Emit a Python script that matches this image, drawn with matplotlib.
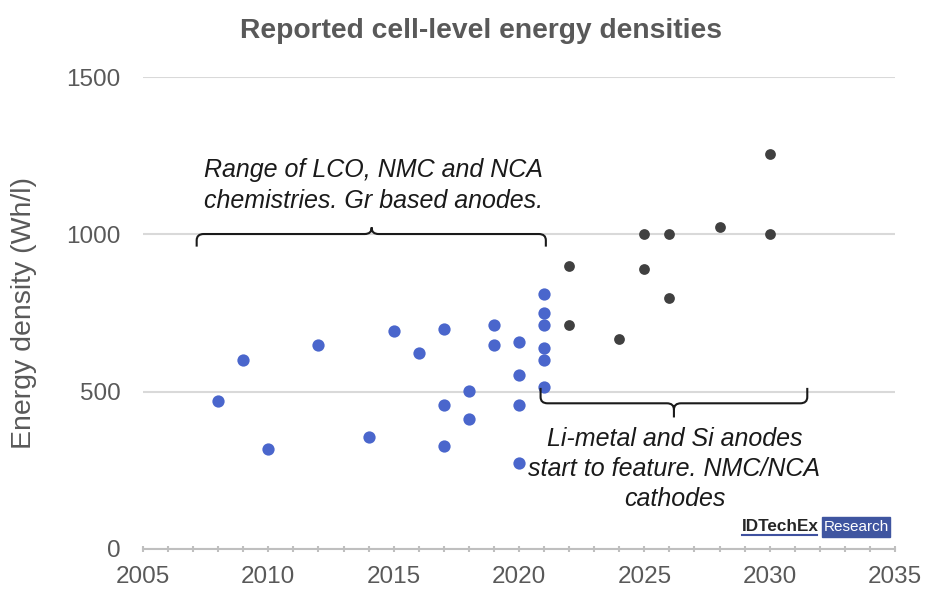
import numpy as np
import matplotlib
matplotlib.use('Agg')
import matplotlib.pyplot as plt
from matplotlib.path import Path
import matplotlib.patches as patches

plt.rcParams['font.family'] = ['Liberation Sans', 'DejaVu Sans']

# reported cells (blue = Gr based anodes, dark = Li-metal / Si anodes)
gr_year = [2008, 2009, 2010, 2012, 2014, 2015, 2016, 2017, 2017, 2017, 2018, 2018,
           2019, 2019, 2020, 2020, 2020, 2020, 2021, 2021, 2021, 2021, 2021, 2021]
gr_wh_l = [471, 600, 318, 649, 357, 693, 624, 699, 457, 328, 503, 414,
           713, 649, 658, 553, 458, 272, 811, 750, 713, 639, 600, 516]

new_year = [2022, 2022, 2024, 2025, 2025, 2026, 2026, 2028, 2030, 2030]
new_wh_l = [899, 713, 667, 1000, 891, 1000, 799, 1023, 1255, 1000]

blue = '#4A66CC'
dark = '#404040'
grey_txt = '#595959'


def bracket(ax, x0, x1, xm, y_end, y_bar, y_tip, rx=0.28, ry=20):
    s = 1 if y_tip > y_bar else -1
    verts = [(x0, y_end), (x0, y_bar - s * ry), (x0, y_bar), (x0 + rx, y_bar),
             (xm - rx, y_bar), (xm, y_bar), (xm, y_bar + s * ry), (xm, y_tip),
             (xm, y_bar + s * ry), (xm, y_bar), (xm + rx, y_bar),
             (x1 - rx, y_bar), (x1, y_bar), (x1, y_bar - s * ry), (x1, y_end)]
    codes = [Path.MOVETO, Path.LINETO, Path.CURVE3, Path.CURVE3,
             Path.LINETO, Path.CURVE3, Path.CURVE3, Path.LINETO,
             Path.MOVETO, Path.CURVE3, Path.CURVE3,
             Path.LINETO, Path.CURVE3, Path.CURVE3, Path.LINETO]
    ax.add_patch(patches.PathPatch(Path(verts, codes), fill=False, ec='#1a1a1a',
                                   lw=1.5, zorder=4))


fig = plt.figure(figsize=(9.46, 6.06), dpi=100)
ax = fig.add_axes([0.1512, 0.0941, 0.7949, 0.7788])

ax.scatter(gr_year, gr_wh_l, s=78, color=blue, zorder=3, linewidths=0)
ax.scatter(new_year, new_wh_l, s=60, color=dark, zorder=3, linewidths=0)

ax.set_xlim(2005, 2035)
ax.set_ylim(0, 1500)
ax.set_xticks(np.arange(2005, 2036, 5))
ax.set_xticks(np.arange(2005, 2036, 1), minor=True)
ax.set_yticks([0, 500, 1000, 1500])
ax.yaxis.grid(True, color='#d9d9d9', lw=1.5)
ax.set_axisbelow(True)
for side in ['top', 'right', 'left']:
    ax.spines[side].set_visible(False)
ax.spines['bottom'].set_color('#bfbfbf')
ax.spines['bottom'].set_linewidth(1.5)
ax.tick_params(axis='y', length=0, pad=16, labelsize=17.5, labelcolor=grey_txt)
ax.tick_params(axis='x', which='major', direction='inout', length=5, width=1.5,
               color='#bfbfbf', pad=10, labelsize=17.5, labelcolor=grey_txt)
ax.tick_params(axis='x', which='minor', direction='inout', length=5, width=1.5,
               color='#bfbfbf')
ax.set_ylabel('Energy density (Wh/l)', fontsize=20.5, color=grey_txt, labelpad=21)

fig.text(0.508, 0.949, 'Reported cell-level energy densities', ha='center', va='center',
         fontsize=20.3, fontweight='bold', color=grey_txt)

bracket(ax, 2007.14, 2021.07, 2014.12, 961, 1001, 1023)
bracket(ax, 2020.86, 2031.5, 2026.18, 512, 463, 418)

ax.text(2014.2, 1155, 'Range of LCO, NMC and NCA\nchemistries. Gr based anodes.',
        ha='center', va='center', fontsize=18, style='italic', color='#1a1a1a',
        linespacing=1.38)
ax.text(2026.2, 254, 'Li-metal and Si anodes\nstart to feature. NMC/NCA\ncathodes',
        ha='center', va='center', fontsize=18, style='italic', color='#1a1a1a',
        linespacing=1.3)

# logo
fig.text(0.7843, 0.1315, 'IDTechEx', ha='left', va='center', fontsize=12.3,
         fontweight='bold', color='#262626')
fig.add_artist(plt.Line2D([0.7843, 0.8637], [0.1165, 0.1165],
                          color='#3f51a0', lw=1.5))
fig.add_artist(patches.Rectangle((0.869, 0.1139), 0.0719, 0.033, transform=fig.transFigure,
                                 color='#3f55a0'))
fig.text(0.905, 0.1304, 'Research', ha='center', va='center', fontsize=11,
         color='white')

fig.savefig('out.png', dpi=100)
